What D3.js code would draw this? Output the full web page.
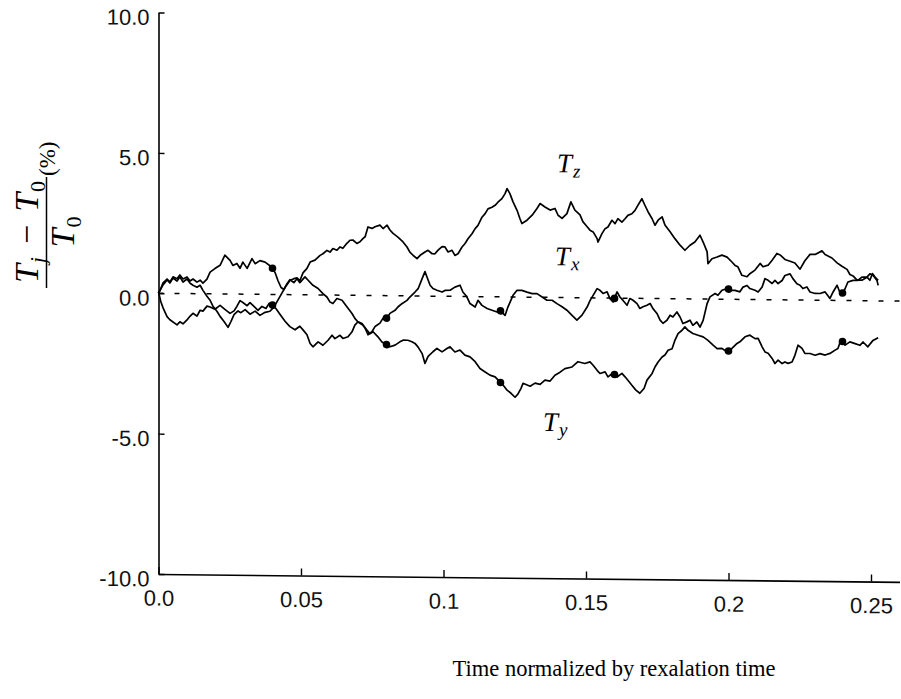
<!DOCTYPE html>
<html>
<head>
<meta charset="utf-8">
<script src="https://cdn.jsdelivr.net/npm/d3@7"></script>
<style>
  body { margin: 0; background: #fff; }
  svg { display: block; }
</style>
</head>
<body>
<svg id="mainsvg"></svg>
<script>
// axis ticks
const timeTicks = [0, 0.05, 0.1, 0.15, 0.2, 0.25];
const timeTickLabels = ["0.0", "0.05", "0.1", "0.15", "0.2", "0.25"];
const tempTicks = [-10, -5, 0, 5, 10];
const tempTickLabels = ["-10.0", "-5.0", "0.0", "5.0", "10.0"];
const dotTimes = [0.04, 0.08, 0.12, 0.16, 0.2, 0.24];

// [time, (Tj - T0)/T0 in %]
const tx = [
  [0,0.05],[0.0008,-0.29],[0.0016,-0.52],[0.0030,-0.83],[0.0040,-0.94],[0.0065,-1.12],[0.0075,-1.01],
  [0.0086,-1.08],[0.0100,-0.94],[0.0111,-0.80],[0.0121,-0.70],[0.0135,-0.80],[0.0146,-0.59],[0.0156,-0.62],
  [0.0170,-0.44],[0.0181,-0.47],[0.0198,-0.55],[0.0216,-0.41],[0.0233,-0.55],[0.0251,-0.69],[0.0265,-0.60],
  [0.0275,-0.44],[0.0286,-0.23],[0.0296,-0.30],[0.0311,-0.41],[0.0321,-0.30],[0.0335,-0.43],[0.0349,-0.57],
  [0.0363,-0.43],[0.0377,-0.50],[0.0388,-0.32],[0.0398,-0.36],[0.0412,-0.50],[0.0426,-0.70],[0.0444,-0.95],
  [0.0461,-1.14],[0.0479,-1.25],[0.0496,-1.12],[0.0507,-1.25],[0.0521,-1.42],[0.0532,-1.73],[0.0542,-1.85],
  [0.0560,-1.67],[0.0577,-1.79],[0.0595,-1.61],[0.0609,-1.43],[0.0619,-1.55],[0.0637,-1.43],[0.0647,-1.54],
  [0.0665,-1.48],[0.0679,-1.30],[0.0689,-1.06],[0.0700,-0.94],[0.0714,-1.00],[0.0725,-1.17],[0.0735,-1.40],
  [0.0749,-1.29],[0.0760,-1.10],[0.0777,-0.98],[0.0788,-0.80],[0.0802,-0.80],[0.0812,-0.63],[0.0830,-0.52],
  [0.0840,-0.40],[0.0854,-0.28],[0.0872,-0.16],[0.0882,-0.04],[0.0900,0.14],[0.0911,0.26],[0.0925,0.62],
  [0.0935,0.87],[0.0942,0.68],[0.0953,0.39],[0.0963,0.27],[0.0977,0.21],[0.0995,0.15],[0.1005,0.21],
  [0.1023,0.22],[0.1040,0.33],[0.1058,0.40],[0.1068,0.16],[0.1082,-0.01],[0.1093,-0.25],[0.1111,-0.37],
  [0.1121,-0.13],[0.1135,-0.31],[0.1153,-0.42],[0.1170,-0.48],[0.1188,-0.54],[0.1198,-0.48],[0.1216,-0.66],
  [0.1226,-0.36],[0.1244,0.06],[0.1258,0.24],[0.1275,0.24],[0.1293,0.18],[0.1311,0.13],[0.1328,0.13],
  [0.1346,0.01],[0.1363,-0.10],[0.1381,-0.10],[0.1398,-0.22],[0.1416,-0.33],[0.1433,-0.45],[0.1451,-0.63],
  [0.1468,-0.80],[0.1486,-0.62],[0.1504,-0.33],[0.1514,-0.10],[0.1525,0.09],[0.1539,0.33],[0.1549,0.27],
  [0.1560,0.16],[0.1574,0.22],[0.1584,-0.02],[0.1595,-0.14],[0.1609,0.22],[0.1619,0.04],[0.1630,-0.08],
  [0.1644,-0.25],[0.1654,-0.01],[0.1665,-0.07],[0.1679,-0.19],[0.1689,-0.36],[0.1700,-0.30],[0.1714,-0.24],
  [0.1725,-0.18],[0.1735,-0.36],[0.1749,-0.53],[0.1760,-0.77],[0.1770,-0.88],[0.1784,-0.77],[0.1795,-0.59],
  [0.1805,-0.65],[0.1819,-0.47],[0.1830,-0.65],[0.1840,-0.88],[0.1854,-0.82],[0.1865,-0.76],[0.1875,-0.94],
  [0.1889,-0.82],[0.1900,-1.00],[0.1911,-0.76],[0.1925,-0.16],[0.1935,0.08],[0.1953,0.20],[0.1963,0.14],
  [0.1977,0.32],[0.1995,0.38],[0.2012,0.32],[0.2023,0.32],[0.2040,0.27],[0.2051,0.44],[0.2065,0.50],
  [0.2075,0.39],[0.2093,0.33],[0.2104,0.27],[0.2118,0.45],[0.2128,0.75],[0.2139,0.69],[0.2153,0.58],
  [0.2163,0.69],[0.2174,0.58],[0.2188,0.69],[0.2198,0.87],[0.2216,0.93],[0.2226,0.76],[0.2240,0.58],
  [0.2251,0.53],[0.2261,0.41],[0.2275,0.47],[0.2286,0.29],[0.2304,0.24],[0.2321,0.24],[0.2339,0.30],
  [0.2356,0.07],[0.2367,0.30],[0.2381,0.54],[0.2395,0.18],[0.2409,0.42],[0.2419,0.66],[0.2437,0.72],
  [0.2454,0.72],[0.2468,0.84],[0.2486,0.84],[0.2496,0.73],[0.2505,0.97],[0.2514,0.85],[0.2525,0.73]
];

const ty = [
  [0,0.0],[0.0005,0.09],[0.0016,0.37],[0.0030,0.51],[0.0040,0.41],[0.0051,0.59],[0.0065,0.52],[0.0075,0.66],
  [0.0086,0.52],[0.0100,0.59],[0.0111,0.45],[0.0121,0.52],[0.0135,0.41],[0.0146,0.48],[0.0156,0.38],
  [0.0170,0.52],[0.0181,0.77],[0.0198,0.90],[0.0216,1.02],[0.0233,1.38],[0.0251,1.20],[0.0261,1.02],
  [0.0275,1.09],[0.0286,0.92],[0.0296,1.14],[0.0311,0.92],[0.0328,1.27],[0.0339,1.09],[0.0356,1.20],
  [0.0374,1.15],[0.0398,0.97],[0.0409,0.78],[0.0419,0.50],[0.0430,0.25],[0.0440,0.18],[0.0451,0.39],
  [0.0461,0.53],[0.0475,0.43],[0.0486,0.57],[0.0496,0.43],[0.0514,0.64],[0.0525,0.52],[0.0542,0.34],
  [0.0560,0.23],[0.0577,0.05],[0.0591,-0.07],[0.0602,-0.25],[0.0612,-0.30],[0.0626,-0.12],[0.0644,-0.18],
  [0.0661,-0.41],[0.0679,-0.65],[0.0689,-0.82],[0.0700,-0.95],[0.0718,-1.06],[0.0732,-1.24],[0.0742,-1.36],
  [0.0753,-1.29],[0.0770,-1.47],[0.0784,-1.65],[0.0798,-1.73],[0.0812,-1.82],[0.0830,-1.76],[0.0847,-1.64],
  [0.0858,-1.58],[0.0875,-1.58],[0.0889,-1.63],[0.0900,-1.69],[0.0911,-1.82],[0.0925,-2.05],[0.0935,-2.40],
  [0.0946,-2.15],[0.0963,-1.98],[0.0977,-1.86],[0.0995,-1.98],[0.1012,-1.86],[0.1023,-1.80],[0.1040,-1.98],
  [0.1058,-1.91],[0.1075,-2.09],[0.1093,-2.15],[0.1111,-2.32],[0.1128,-2.56],[0.1146,-2.68],[0.1163,-2.79],
  [0.1181,-2.85],[0.1198,-3.03],[0.1209,-3.14],[0.1223,-3.32],[0.1237,-3.43],[0.1251,-3.57],[0.1261,-3.46],
  [0.1272,-3.25],[0.1279,-3.07],[0.1304,-3.17],[0.1321,-3.06],[0.1339,-3.10],[0.1356,-2.95],[0.1374,-2.98],
  [0.1391,-2.77],[0.1409,-2.66],[0.1426,-2.53],[0.1451,-2.47],[0.1472,-2.28],[0.1496,-2.34],[0.1514,-2.28],
  [0.1525,-2.40],[0.1539,-2.58],[0.1549,-2.69],[0.1567,-2.63],[0.1577,-2.81],[0.1595,-2.67],[0.1609,-2.81],
  [0.1626,-2.68],[0.1637,-2.80],[0.1647,-2.92],[0.1661,-3.10],[0.1675,-3.27],[0.1689,-3.38],[0.1704,-3.20],
  [0.1714,-2.91],[0.1732,-2.67],[0.1742,-2.44],[0.1753,-2.26],[0.1767,-2.08],[0.1777,-2.01],[0.1788,-1.84],
  [0.1802,-1.78],[0.1812,-1.48],[0.1823,-1.24],[0.1837,-1.12],[0.1847,-1.00],[0.1858,-1.12],[0.1875,-1.23],
  [0.1893,-1.29],[0.1911,-1.35],[0.1928,-1.47],[0.1946,-1.64],[0.1960,-1.76],[0.1977,-1.75],[0.1995,-1.88],
  [0.2012,-1.75],[0.2030,-1.57],[0.2040,-1.51],[0.2058,-1.33],[0.2075,-1.27],[0.2093,-1.39],[0.2104,-1.38],
  [0.2118,-1.68],[0.2128,-1.86],[0.2139,-1.91],[0.2153,-2.09],[0.2163,-2.27],[0.2174,-2.15],[0.2188,-2.27],
  [0.2198,-2.21],[0.2209,-2.26],[0.2223,-2.21],[0.2233,-1.97],[0.2244,-1.61],[0.2258,-1.72],[0.2268,-1.90],
  [0.2286,-1.90],[0.2304,-1.96],[0.2321,-1.90],[0.2339,-1.95],[0.2356,-1.89],[0.2374,-1.77],[0.2384,-1.71],
  [0.2395,-1.39],[0.2409,-1.59],[0.2426,-1.47],[0.2444,-1.53],[0.2461,-1.59],[0.2472,-1.47],[0.2489,-1.64],
  [0.2507,-1.41],[0.2525,-1.31]
];

const tz = [
  [0,0.0],[0.0005,0.10],[0.0016,0.30],[0.0030,0.48],[0.0040,0.37],[0.0051,0.55],[0.0065,0.44],[0.0075,0.59],
  [0.0086,0.41],[0.0100,0.52],[0.0111,0.37],[0.0121,0.30],[0.0135,0.23],[0.0146,0.30],[0.0156,0.12],
  [0.0170,-0.09],[0.0181,-0.23],[0.0191,-0.44],[0.0205,-0.62],[0.0216,-0.80],[0.0230,-0.98],[0.0244,-1.19],
  [0.0254,-0.98],[0.0265,-0.73],[0.0279,-0.60],[0.0289,-0.66],[0.0304,-0.55],[0.0321,-0.71],[0.0339,-0.60],
  [0.0356,-0.75],[0.0374,-0.64],[0.0391,-0.60],[0.0405,-0.45],[0.0419,-0.20],[0.0433,0.05],[0.0447,0.30],
  [0.0461,0.50],[0.0475,0.57],[0.0486,0.60],[0.0496,0.50],[0.0507,0.78],[0.0521,0.94],[0.0532,1.17],
  [0.0549,1.24],[0.0567,1.41],[0.0577,1.47],[0.0591,1.59],[0.0602,1.53],[0.0612,1.66],[0.0626,1.60],
  [0.0637,1.72],[0.0647,1.67],[0.0661,1.85],[0.0672,1.96],[0.0682,1.97],[0.0696,1.85],[0.0707,1.91],
  [0.0718,2.03],[0.0725,2.09],[0.0735,2.44],[0.0749,2.39],[0.0760,2.45],[0.0777,2.51],[0.0788,2.39],
  [0.0802,2.51],[0.0812,2.34],[0.0823,2.22],[0.0840,2.09],[0.0858,1.92],[0.0872,1.74],[0.0882,1.56],
  [0.0893,1.45],[0.0907,1.33],[0.0918,1.45],[0.0935,1.57],[0.0946,1.63],[0.0960,1.51],[0.0970,1.51],
  [0.0981,1.64],[0.0995,1.77],[0.1005,1.76],[0.1016,1.58],[0.1030,1.64],[0.1040,1.46],[0.1051,1.52],
  [0.1065,1.76],[0.1075,1.88],[0.1086,2.06],[0.1100,2.24],[0.1111,2.42],[0.1121,2.54],[0.1135,2.83],
  [0.1146,2.96],[0.1156,3.13],[0.1170,3.19],[0.1181,3.26],[0.1191,3.37],[0.1205,3.50],[0.1216,3.68],
  [0.1223,3.86],[0.1233,3.68],[0.1244,3.39],[0.1258,3.09],[0.1268,2.80],[0.1275,2.62],[0.1293,2.74],
  [0.1311,2.92],[0.1328,3.16],[0.1339,3.34],[0.1356,3.22],[0.1374,3.11],[0.1391,3.17],[0.1402,2.93],
  [0.1416,2.82],[0.1433,2.99],[0.1447,3.41],[0.1461,3.12],[0.1479,2.95],[0.1489,2.71],[0.1504,2.53],
  [0.1514,2.41],[0.1525,2.35],[0.1539,2.11],[0.1542,1.99],[0.1556,2.29],[0.1567,2.47],[0.1577,2.53],
  [0.1591,2.77],[0.1602,2.65],[0.1612,2.83],[0.1626,2.71],[0.1637,2.83],[0.1647,2.95],[0.1661,3.01],
  [0.1672,3.13],[0.1682,3.31],[0.1696,3.55],[0.1707,3.31],[0.1718,3.08],[0.1732,2.84],[0.1742,2.61],
  [0.1753,2.79],[0.1767,2.91],[0.1777,2.62],[0.1795,2.38],[0.1812,2.14],[0.1830,1.91],[0.1847,1.73],
  [0.1865,1.91],[0.1882,2.03],[0.1900,2.27],[0.1911,2.03],[0.1925,1.68],[0.1928,1.26],[0.1942,1.44],
  [0.1960,1.50],[0.1977,1.57],[0.1995,1.50],[0.2012,1.33],[0.2023,1.21],[0.2033,1.16],[0.2047,0.86],
  [0.2065,0.81],[0.2075,0.92],[0.2093,1.05],[0.2111,1.29],[0.2121,1.17],[0.2139,1.23],[0.2153,1.41],
  [0.2170,1.65],[0.2181,1.60],[0.2198,1.44],[0.2216,1.38],[0.2233,1.32],[0.2251,1.10],[0.2268,1.40],
  [0.2286,1.63],[0.2304,1.63],[0.2328,1.76],[0.2339,1.63],[0.2363,1.51],[0.2381,1.34],[0.2398,1.22],
  [0.2416,1.11],[0.2426,0.93],[0.2437,0.88],[0.2451,0.73],[0.2468,0.73],[0.2486,0.84],[0.2496,0.96],
  [0.2507,0.91],[0.2521,0.73],[0.2525,0.55]
];

const width = 901, height = 699;

const svg = d3.select("#mainsvg")
    .attr("width", width)
    .attr("height", height)
    .attr("viewBox", [0, 0, width, height]);

const x = d3.scaleLinear([0, 0.26], [158.5, 899.5]);
const y = d3.scaleLinear([-10, 10], [574, 12.5]);

// the scanned original is slightly sheared, baseline drops to the right
const skew = Math.atan(0.0106) * 180 / Math.PI;
const g = svg.append("g")
    .attr("transform", `translate(${x(0)},0) skewY(${skew}) translate(${-x(0)},0)`);

const tickFont = "22px 'Liberation Sans', Arial, sans-serif";
const serif = "'Liberation Serif', 'Times New Roman', serif";

// x axis
const xAxis = g.append("g")
    .attr("transform", `translate(0,${y(-10)})`)
    .call(d3.axisBottom(x)
        .tickValues(timeTicks)
        .tickFormat((d, i) => timeTickLabels[i])
        .tickSizeInner(-7)
        .tickSizeOuter(0)
        .tickPadding(16));

// y axis
const yAxis = g.append("g")
    .attr("transform", `translate(${x(0)},0)`)
    .call(d3.axisLeft(y)
        .tickValues(tempTicks)
        .tickFormat((d, i) => tempTickLabels[i])
        .tickSizeInner(-6)
        .tickSizeOuter(0)
        .tickPadding(9));
yAxis.selectAll(".tick text").attr("y", 5);

[xAxis, yAxis].forEach(a => {
    a.select(".domain").attr("stroke", "#000").attr("stroke-width", 1.6);
    a.selectAll(".tick line").attr("stroke", "#000").attr("stroke-width", 1.4);
    a.selectAll(".tick text").style("font", tickFont).attr("fill", "#111");
});

// dashed zero line
const line = d3.line().x(d => x(d[0])).y(d => y(d[1]));
g.append("path")
    .attr("d", line(x.domain().map(t => [t, 0])))
    .attr("fill", "none")
    .attr("stroke", "#000")
    .attr("stroke-width", 1.5)
    .attr("stroke-dasharray", "5,11");

// the three curves
[tx, ty, tz].forEach(s => {
    g.append("path")
        .attr("d", line(s))
        .attr("fill", "none")
        .attr("stroke", "#000")
        .attr("stroke-width", 1.7)
        .attr("stroke-linejoin", "round");
});

// sample markers on Tx and Ty
const bis = d3.bisector(d => d[0]).left;
function valueAt(s, t) {
    const i = bis(s, t);
    const a = s[i - 1], b = s[i];
    return a[1] + (b[1] - a[1]) * (t - a[0]) / (b[0] - a[0]);
}
[tx, ty].forEach(s => {
    g.append("g").selectAll("circle")
        .data(dotTimes)
        .join("circle")
        .attr("cx", t => x(t))
        .attr("cy", t => y(valueAt(s, t)))
        .attr("r", 3.8)
        .attr("fill", "#000");
});

// curve labels
function tLabel(t, v, sub) {
    const txt = g.append("text")
        .attr("x", x(t))
        .attr("y", y(v))
        .style("font-family", serif)
        .attr("font-size", 27)
        .attr("font-style", "italic");
    txt.append("tspan").text("T");
    txt.append("tspan").attr("font-size", 19).attr("dx", 1).attr("dy", 5).text(sub);
}
tLabel(0.1398, 4.46, "z");
tLabel(0.1391, 1.15, "x");
tLabel(0.1349, -4.76, "y");

// y axis title: (Tj - T0)/T0 (%)
const yt = svg.append("g")
    .attr("transform", "translate(46.5,232) rotate(-90)")
    .style("font-family", serif);
const num = yt.append("text")
    .attr("text-anchor", "middle")
    .attr("y", -9)
    .attr("font-size", 34)
    .attr("font-style", "italic");
num.append("tspan").text("T");
num.append("tspan").attr("font-size", 22).attr("dx", 1).attr("dy", 7).text("j");
num.append("tspan").attr("font-style", "normal").attr("dy", -7).attr("dx", 13).text("\u2212");
num.append("tspan").attr("dx", 13).text("T");
num.append("tspan").attr("font-size", 22).attr("font-style", "normal").attr("dx", 1).attr("dy", 7).text("0");
yt.append("line")
    .attr("x1", -56).attr("x2", 55)
    .attr("stroke", "#000").attr("stroke-width", 1.5);
const den = yt.append("text")
    .attr("text-anchor", "middle")
    .attr("y", 27)
    .attr("font-size", 34)
    .attr("font-style", "italic");
den.append("tspan").text("T");
den.append("tspan").attr("font-size", 22).attr("font-style", "normal").attr("dx", 1).attr("dy", 7).text("0");
yt.append("text")
    .attr("x", 56)
    .attr("y", 8.5)
    .attr("font-size", 23)
    .text("(%)");

// x axis title
svg.append("text")
    .attr("x", 614)
    .attr("y", 676)
    .attr("text-anchor", "middle")
    .style("font", `22.5px ${serif}`)
    .text("Time normalized by rexalation time");
</script>
</body>
</html>
